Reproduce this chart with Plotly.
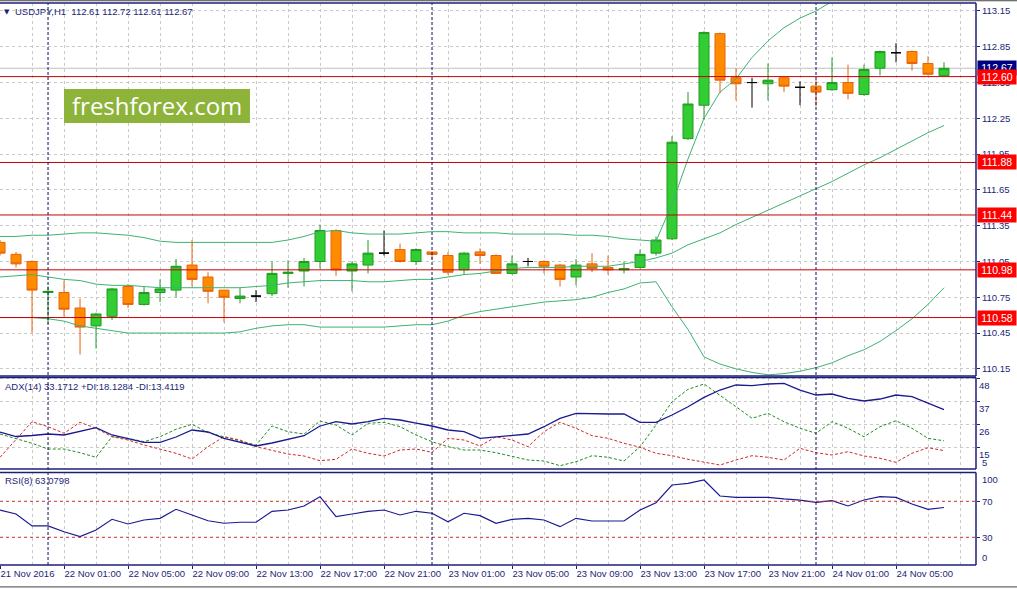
import plotly.graph_objects as go
import pandas as pd
import numpy as np

# ---------------- data ----------------
times = pd.date_range("2016-11-21 21:00", periods=60, freq="h")

opens = [111.21, 111.11, 111.05, 110.79, 110.79, 110.66, 110.51, 110.59, 110.84, 110.69,
         110.79, 110.81, 111.02, 110.92, 110.81, 110.74, 110.76, 110.78, 110.95, 110.97,
         111.05, 111.31, 110.97, 111.02, 111.12, 111.15, 111.05, 111.13, 111.10, 110.98,
         111.13, 111.10, 110.95, 111.05, 111.05, 111.02, 110.92, 111.03, 111.00, 110.98,
         111.00, 111.12, 111.24, 112.08, 112.36, 112.96, 112.59, 112.55, 112.54, 112.59,
         112.51, 112.52, 112.49, 112.55, 112.45, 112.67, 112.80, 112.81, 112.71, 112.61]
highs = [111.23, 111.13, 111.06, 110.84, 110.89, 110.74, 110.62, 110.83, 110.86, 110.84,
         110.90, 111.07, 111.23, 110.96, 110.81, 110.83, 110.81, 111.05, 111.06, 111.08,
         111.36, 111.32, 111.05, 111.23, 111.31, 111.20, 111.16, 111.13, 111.13, 111.13,
         111.16, 111.11, 111.10, 111.08, 111.06, 111.03, 111.07, 111.12, 111.10, 111.05,
         111.15, 111.26, 112.10, 112.47, 112.98, 112.97, 112.67, 112.59, 112.71, 112.60,
         112.56, 112.57, 112.76, 112.70, 112.70, 112.82, 112.88, 112.82, 112.77, 112.72]
lows = [111.10, 111.00, 110.45, 110.53, 110.59, 110.27, 110.32, 110.56, 110.66, 110.68,
        110.71, 110.75, 110.84, 110.70, 110.54, 110.70, 110.71, 110.76, 110.83, 110.84,
        110.99, 110.93, 110.80, 110.95, 111.10, 111.04, 111.02, 111.07, 110.94, 110.94,
        111.03, 110.95, 110.94, 111.01, 110.95, 110.84, 110.85, 110.96, 110.94, 110.95,
        110.99, 111.10, 111.23, 112.07, 112.24, 112.46, 112.40, 112.34, 112.40, 112.47,
        112.36, 112.35, 112.48, 112.41, 112.44, 112.61, 112.72, 112.65, 112.61, 112.61]
closes = [111.12, 111.03, 110.81, 110.80, 110.65, 110.50, 110.61, 110.82, 110.69, 110.79,
          110.82, 111.01, 110.90, 110.80, 110.75, 110.76, 110.76, 110.95, 110.96, 111.05,
          111.31, 110.98, 111.03, 111.12, 111.12, 111.05, 111.15, 111.11, 110.96, 111.12,
          111.10, 110.95, 111.03, 111.05, 111.01, 110.90, 111.02, 110.99, 110.98, 110.99,
          111.11, 111.23, 112.05, 112.37, 112.97, 112.57, 112.54, 112.55, 112.57, 112.52,
          112.51, 112.47, 112.55, 112.46, 112.66, 112.81, 112.80, 112.71, 112.62, 112.67]

bb_upper = [111.26, 111.26, 111.27, 111.27, 111.28, 111.29, 111.29, 111.28, 111.27, 111.25,
            111.22, 111.21, 111.21, 111.21, 111.21, 111.21, 111.21, 111.21, 111.23, 111.26,
            111.30, 111.31, 111.29, 111.28, 111.28, 111.28, 111.29, 111.30, 111.30, 111.29,
            111.29, 111.29, 111.28, 111.28, 111.28, 111.28, 111.27, 111.27, 111.26, 111.24,
            111.23, 111.22, 111.53, 111.91, 112.25, 112.47, 112.58, 112.76, 112.90, 113.01,
            113.09, 113.15, 113.23, 113.31, 113.41, 113.46, 113.51, 113.55, 113.57, 113.55]
bb_mid = [110.92, 110.93, 110.94, 110.92, 110.90, 110.89, 110.86, 110.85, 110.85, 110.84,
          110.83, 110.83, 110.83, 110.83, 110.83, 110.83, 110.84, 110.85, 110.87, 110.88,
          110.89, 110.89, 110.89, 110.88, 110.88, 110.89, 110.90, 110.90, 110.92, 110.94,
          110.95, 110.97, 110.99, 111.00, 111.00, 111.00, 111.01, 111.01, 111.01, 111.03,
          111.05, 111.08, 111.12, 111.19, 111.24, 111.29, 111.36, 111.42, 111.48, 111.54,
          111.60, 111.66, 111.72, 111.79, 111.86, 111.92, 111.99, 112.06, 112.13, 112.19]
bb_lower = [110.58, 110.58, 110.58, 110.57, 110.55, 110.51, 110.49, 110.47, 110.45, 110.45,
            110.45, 110.45, 110.45, 110.45, 110.45, 110.46, 110.49, 110.51, 110.52, 110.52,
            110.50, 110.50, 110.50, 110.50, 110.50, 110.51, 110.52, 110.52, 110.55, 110.60,
            110.63, 110.65, 110.67, 110.69, 110.71, 110.72, 110.73, 110.75, 110.79, 110.82,
            110.87, 110.88, 110.67, 110.48, 110.25, 110.19, 110.15, 110.12, 110.10, 110.11,
            110.13, 110.16, 110.20, 110.26, 110.31, 110.38, 110.47, 110.57, 110.69, 110.83]

adx = [22.38, 20.21, 20.69, 21.42, 20.94, 22.87, 24.46, 20.94, 19.01, 17.41,
       17.41, 19.97, 23.35, 22.38, 19.34, 17.56, 15.63, 17.08, 18.86, 20.60,
       25.28, 27.35, 26.24, 27.35, 28.99, 28.17, 26.72, 25.28, 23.35, 22.53,
       19.34, 20.12, 20.60, 21.42, 24.94, 28.99, 31.40, 31.07, 31.07, 31.07,
       27.06, 27.06, 30.58, 34.59, 39.12, 42.64, 45.06, 44.72, 45.54, 45.88,
       42.64, 40.23, 40.71, 38.64, 37.34, 38.30, 40.23, 39.41, 36.23, 33.17]
plus_di = [21.42, 19.34, 16.93, 14.18, 14.18, 12.40, 10.18, 20.12, 19.34, 17.70,
           20.12, 23.69, 26.10, 22.05, 20.12, 18.04, 16.11, 25.28, 22.53, 21.42,
           27.69, 25.76, 20.94, 26.58, 27.06, 24.94, 20.94, 17.70, 15.29, 13.70,
           13.70, 12.40, 10.47, 8.88, 8.39, 6.13, 8.05, 10.95, 10.18, 8.39,
           15.29, 25.76, 37.00, 42.98, 45.54, 40.23, 34.59, 28.99, 31.40, 27.35,
           24.17, 21.76, 27.35, 24.17, 20.12, 24.94, 27.83, 24.17, 19.34, 18.13]
minus_di = [10.18, 18.52, 27.35, 24.94, 21.76, 27.06, 24.17, 20.12, 18.52, 16.11,
            14.18, 12.11, 9.36, 15.29, 20.12, 18.52, 15.29, 13.70, 11.77, 10.81,
            8.54, 9.22, 14.18, 12.11, 10.81, 13.70, 14.18, 12.59, 19.34, 18.52,
            15.63, 20.12, 18.52, 15.29, 22.53, 27.06, 24.17, 20.60, 19.34, 16.93,
            15.00, 12.11, 10.95, 9.22, 7.77, 6.46, 8.88, 10.95, 10.18, 8.88,
            14.52, 12.40, 11.29, 12.88, 10.81, 9.70, 7.77, 12.11, 14.81, 13.41]
rsi = [60.3, 55.9, 42.6, 42.6, 36.2, 30.7, 38.1, 50.0, 44.8, 49.2,
       51.1, 61.1, 54.8, 48.4, 45.6, 46.7, 46.7, 58.9, 60.3, 64.8,
       75.1, 52.9, 55.9, 58.9, 60.3, 54.8, 58.9, 56.7, 47.3, 56.7,
       54.0, 45.6, 50.0, 51.1, 49.2, 41.8, 51.1, 48.1, 48.1, 48.1,
       60.3, 68.4, 88.1, 90.0, 93.7, 75.9, 74.4, 74.4, 74.4, 72.6,
       71.4, 68.9, 70.7, 64.8, 71.4, 75.1, 74.4, 67.0, 61.1, 63.08]

levels = [112.60, 111.88, 111.44, 110.98, 110.58]
price_ticks = [113.15, 112.85, 112.55, 112.25, 111.95, 111.65, 111.35, 111.05, 110.75, 110.45, 110.15]
adx_ticks = [15, 26, 37, 48]
adx_min_label = 5
rsi_levels = [30, 70]
rsi_edge_labels = [0, 100]
day_starts = ["2016-11-22 00:00", "2016-11-23 00:00", "2016-11-24 00:00"]
tick_times = ["2016-11-21 21:00", "2016-11-22 01:00", "2016-11-22 05:00", "2016-11-22 09:00",
              "2016-11-22 13:00", "2016-11-22 17:00", "2016-11-22 21:00", "2016-11-23 01:00",
              "2016-11-23 05:00", "2016-11-23 09:00", "2016-11-23 13:00", "2016-11-23 17:00",
              "2016-11-23 21:00", "2016-11-24 01:00", "2016-11-24 05:00"]
tick_text = ["21 Nov 2016", "22 Nov 01:00", "22 Nov 05:00", "22 Nov 09:00", "22 Nov 13:00",
             "22 Nov 17:00", "22 Nov 21:00", "23 Nov 01:00", "23 Nov 05:00", "23 Nov 09:00",
             "23 Nov 13:00", "23 Nov 17:00", "23 Nov 21:00", "24 Nov 01:00", "24 Nov 05:00"]
header = "USDJPY,H1  112.61 112.72 112.61 112.67"
adx_title = "ADX(14) 33.1712 +DI:18.1284 -DI:13.4119"
rsi_title = "RSI(8) 63.0798"

# ---------------- styles ----------------
NAVY = "#1b1f78"
FONT = "Liberation Sans"
GRID = "#c9c9c9"
BULL_FILL, BULL_LINE = "#32cd32", "#229a22"
BEAR_FILL, BEAR_LINE = "#ff8c00", "#e8620a"
LEVEL_RED = "#c80000"

o = np.array(opens); c = np.array(closes); h = np.array(highs); l = np.array(lows)
t = np.array(times)
bull = c > o
bear = c < o
doji = c == o

D_MAIN = [0.3363, 1.0]
D_ADX = [0.1708, 0.3336]
D_RSI = [0.0, 0.1646]

fig = go.Figure()

def candle(mask, fill_inc, line_inc, fill_dec, line_dec, name):
    fig.add_trace(go.Candlestick(
        x=t[mask], open=o[mask], high=h[mask], low=l[mask], close=c[mask],
        increasing=dict(fillcolor=fill_inc, line=dict(color=line_inc, width=1)),
        decreasing=dict(fillcolor=fill_dec, line=dict(color=line_dec, width=1)),
        whiskerwidth=0, name=name, showlegend=False, hoverinfo="skip",
        xaxis="x", yaxis="y"))

for band in (bb_upper, bb_mid, bb_lower):
    fig.add_trace(go.Scatter(x=times, y=band, mode="lines",
                             line=dict(color="#3cb371", width=1),
                             showlegend=False, hoverinfo="skip", xaxis="x", yaxis="y"))

candle(bull, BULL_FILL, BULL_LINE, BULL_FILL, BULL_LINE, "bull")
candle(bear, BEAR_FILL, BEAR_LINE, BEAR_FILL, BEAR_LINE, "bear")
candle(doji, "#000000", "#000000", "#000000", "#000000", "doji")

fig.add_trace(go.Scatter(x=times, y=plus_di, mode="lines",
                         line=dict(color="#1f8a1f", width=1, dash="3px,2px"),
                         showlegend=False, hoverinfo="skip", xaxis="x", yaxis="y2"))
fig.add_trace(go.Scatter(x=times, y=minus_di, mode="lines",
                         line=dict(color="#d02828", width=1, dash="3px,2px"),
                         showlegend=False, hoverinfo="skip", xaxis="x", yaxis="y2"))
fig.add_trace(go.Scatter(x=times, y=adx, mode="lines",
                         line=dict(color="#1a1a90", width=1.3),
                         showlegend=False, hoverinfo="skip", xaxis="x", yaxis="y2"))

fig.add_trace(go.Scatter(x=times, y=rsi, mode="lines",
                         line=dict(color="#1a1a90", width=1.2),
                         showlegend=False, hoverinfo="skip", xaxis="x", yaxis="y3"))

shapes = []
shapes.append(dict(type="line", xref="x domain", x0=0, x1=1, yref="y", y0=closes[-1], y1=closes[-1],
                   line=dict(color="#c0c0c0", width=1), layer="below"))
for lv in levels:
    shapes.append(dict(type="line", xref="x domain", x0=0, x1=1, yref="y", y0=lv, y1=lv,
                       line=dict(color=LEVEL_RED, width=1), layer="above"))
for lv in rsi_levels:
    shapes.append(dict(type="line", xref="x domain", x0=0, x1=1, yref="y3", y0=lv, y1=lv,
                       line=dict(color="#c83030", width=1, dash="3px,3px"), layer="above"))
for d in day_starts:
    shapes.append(dict(type="line", xref="x", x0=d, x1=d, yref="paper", y0=0, y1=1,
                       line=dict(color="#101050", width=1, dash="3px,2px"), layer="above"))
for dom in (D_MAIN, D_ADX, D_RSI):
    for yy in dom:
        shapes.append(dict(type="line", xref="paper", x0=0, x1=1, yref="paper", y0=yy, y1=yy,
                           line=dict(color=NAVY, width=1.5), layer="above"))
    shapes.append(dict(type="line", xref="paper", x0=1, x1=1, yref="paper", y0=dom[0], y1=dom[1],
                       line=dict(color=NAVY, width=1.5), layer="above"))
shapes.append(dict(type="line", xref="paper", x0=0, x1=1.042, yref="paper", y0=1.004, y1=1.004,
                   line=dict(color="#404040", width=1)))
shapes.append(dict(type="line", xref="paper", x0=0, x1=1.042, yref="paper", y0=-0.039, y1=-0.039,
                   line=dict(color="#404040", width=1)))
shapes.append(dict(type="rect", xref="paper", yref="paper", x0=0.0656, x1=0.2561, y0=0.7865, y1=0.8470,
                   fillcolor="#8db33a", line=dict(width=0), layer="above"))

annotations = []
annotations.append(dict(xref="paper", yref="paper", x=0.161, y=0.8175, text="freshforex.com",
                        showarrow=False, xanchor="center", yanchor="middle",
                        font=dict(family="Open Sans", size=24, color="white")))
annotations.append(dict(xref="paper", yref="paper", x=0.002, y=0.984, text="▼",
                        showarrow=False, xanchor="left", yanchor="middle",
                        font=dict(family="DejaVu Sans", size=7, color=NAVY)))
annotations.append(dict(xref="paper", yref="paper", x=0.0133, y=0.984, text=header,
                        showarrow=False, xanchor="left", yanchor="middle",
                        font=dict(family=FONT, size=9.5, color=NAVY)))
annotations.append(dict(xref="paper", yref="paper", x=0.003, y=0.3185, text=adx_title,
                        showarrow=False, xanchor="left", yanchor="middle",
                        font=dict(family=FONT, size=9.5, color=NAVY)))
annotations.append(dict(xref="paper", yref="paper", x=0.003, y=0.1495, text=rsi_title,
                        showarrow=False, xanchor="left", yanchor="middle",
                        font=dict(family=FONT, size=9.5, color=NAVY)))
annotations.append(dict(xref="paper", yref="y", x=1, y=closes[-1], text=f"{closes[-1]:.2f}",
                        showarrow=False, xanchor="left", yanchor="middle", xshift=1,
                        bgcolor="#000080", borderpad=1, width=36,
                        font=dict(family=FONT, size=10.5, color="white")))
for lv in levels:
    annotations.append(dict(xref="paper", yref="y", x=1, y=lv, text=f"{lv:.2f}",
                            showarrow=False, xanchor="left", yanchor="middle", xshift=1,
                            bgcolor="#ff0000", borderpad=1, width=36,
                            font=dict(family=FONT, size=10.5, color="white")))
annotations.append(dict(xref="paper", yref="y2", x=1, y=adx_min_label, text=str(adx_min_label),
                        showarrow=False, xanchor="left", yanchor="bottom", xshift=4, yshift=-2,
                        font=dict(family=FONT, size=9.5, color=NAVY)))
annotations.append(dict(xref="paper", yref="y3", x=1, y=rsi_edge_labels[1], text=str(rsi_edge_labels[1]),
                        showarrow=False, xanchor="left", yanchor="top", xshift=4, yshift=2,
                        font=dict(family=FONT, size=9.5, color=NAVY)))
annotations.append(dict(xref="paper", yref="y3", x=1, y=rsi_edge_labels[0], text=str(rsi_edge_labels[0]),
                        showarrow=False, xanchor="left", yanchor="bottom", xshift=4, yshift=-1,
                        font=dict(family=FONT, size=9.5, color=NAVY)))

axis_font = dict(family=FONT, size=9.5, color=NAVY)

fig.update_layout(
    width=1017, height=589,
    margin=dict(l=0, r=41, t=3, b=24, autoexpand=False),
    paper_bgcolor="white", plot_bgcolor="white",
    boxgap=0.375, boxgroupgap=0, boxmode="overlay",
    showlegend=False, hovermode=False,
    shapes=shapes, annotations=annotations,
    xaxis=dict(
        type="date", anchor="y3", domain=[0, 1],
        range=["2016-11-21 20:59:50", "2016-11-24 10:00:00"],
        tickvals=tick_times, ticktext=tick_text, tickangle=0, automargin=False,
        ticklabelposition="outside right", ticks="outside", ticklen=3, tickcolor=NAVY,
        tickfont=axis_font,
        showgrid=True, gridcolor=GRID, griddash="3px,3px", gridwidth=1,
        minor=dict(dtick=2 * 3600 * 1000, tick0="2016-11-21 21:00", showgrid=True,
                   gridcolor=GRID, griddash="3px,3px", gridwidth=1, ticks=""),
        showline=False, zeroline=False, rangeslider=dict(visible=False), fixedrange=True,
    ),
    yaxis=dict(
        domain=D_MAIN, anchor="x", side="right", range=[110.09, 113.217], automargin=False,
        tickvals=price_ticks, ticktext=[f"{p:.2f}" for p in price_ticks],
        tickfont=axis_font, ticks="outside", ticklen=3, tickcolor=NAVY,
        showgrid=True, gridcolor=GRID, griddash="3px,3px", gridwidth=1,
        zeroline=False, showline=False, fixedrange=True,
    ),
    yaxis2=dict(
        domain=D_ADX, anchor="x", side="right", range=[4.53, 48.67], automargin=False,
        tickvals=adx_ticks, ticktext=[str(v) for v in adx_ticks],
        ticklabelposition="outside bottom",
        tickfont=axis_font, ticks="outside", ticklen=3, tickcolor=NAVY,
        showgrid=True, gridcolor=GRID, griddash="3px,3px", gridwidth=1,
        zeroline=False, showline=False, fixedrange=True,
    ),
    yaxis3=dict(
        domain=D_RSI, anchor="x", side="right", range=[-0.78, 102.0], automargin=False,
        tickvals=rsi_levels, ticktext=[str(v) for v in rsi_levels],
        tickfont=axis_font, ticks="outside", ticklen=3, tickcolor=NAVY,
        showgrid=False, zeroline=False, showline=False, fixedrange=True,
    ),
)

fig.write_html("out.html", config={"displayModeBar": False, "staticPlot": True},
               post_script="document.body.style.margin='0';document.body.style.overflow='hidden';")
